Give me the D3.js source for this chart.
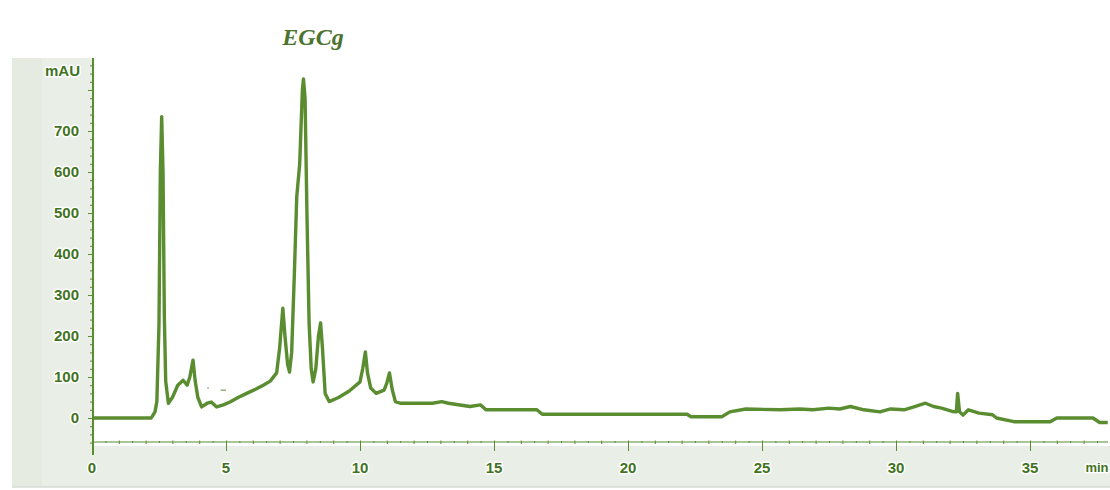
<!DOCTYPE html>
<html>
<head>
<meta charset="utf-8">
<script src="https://cdn.jsdelivr.net/npm/d3@7"></script>
<style>
  html, body { margin: 0; padding: 0; background: #ffffff; }
  svg { display: block; }
  .lbl { font-family: "Liberation Sans", Arial, sans-serif; font-weight: bold; fill: #3f7321;
         stroke: #ffffff; stroke-width: 3px; paint-order: stroke; stroke-linejoin: round; }
</style>
</head>
<body>
<svg id="chart" width="1110" height="490"></svg>
<script>
// Retention time (min) of each trace point
const timeMin = [
  0, 2.2, 2.23, 2.35, 2.42, 2.5, 2.55, 2.6, 2.65, 2.7, 2.75, 2.85, 3.0, 3.2, 3.4, 3.55, 3.65, 3.77,
  3.85, 3.95, 4.09, 4.3, 4.45, 4.65, 4.9, 5.15, 5.45, 5.77, 6.1, 6.39, 6.65, 6.89, 7.0, 7.12, 7.2,
  7.3, 7.37, 7.45, 7.55, 7.64, 7.75, 7.85, 7.89, 7.95, 8.02, 8.1, 8.18, 8.25, 8.35, 8.45, 8.53, 8.6,
  8.7, 8.85, 9.2, 9.6, 10.0, 10.1, 10.2, 10.28, 10.4, 10.6, 10.9, 11.0, 11.1, 11.2, 11.32, 11.5,
  12.7, 13.05, 13.3, 14.1, 14.5, 14.7, 16.6, 16.8, 22.2, 22.35, 23.5, 23.8, 24.4, 25.7, 26.4, 26.9,
  27.5, 27.9, 28.3, 28.8, 29.4, 29.8, 30.3, 30.7, 31.1, 31.4, 31.7, 32.1, 32.25, 32.3, 32.37, 32.5,
  32.7, 33.1, 33.6, 33.75, 34.4, 35.75, 36.0, 37.35, 37.6, 37.9
];
// Detector response (mAU) at each retention time
const absorbance = [
  0, 0, 2, 15, 40, 230, 600, 735, 600, 245, 90, 36, 50, 80, 92, 80, 100, 141,
  90, 50, 27, 36, 39, 27, 32, 39, 50, 60, 70, 80, 90, 110, 170, 268, 200,
  130, 112, 160, 350, 540, 620, 800, 827, 780, 500, 232, 120, 88, 120, 200, 232, 170,
  60, 40, 50, 66, 88, 120, 161, 110, 73, 60, 68, 85, 110, 70, 40, 36,
  36, 40, 36, 28, 32, 20, 20, 9, 9, 3, 3, 15, 22, 20, 22, 20,
  24, 22, 28, 20, 15, 22, 20, 28, 36, 28, 24, 16, 15, 60, 15, 7,
  20, 12, 8, 0, -9, -9, 0, 0, -11, -11
];
// Stray marks near the baseline (time, mAU)
const strayDash = [[4.8, 68], [5.0, 68]];
const strayDot = [[4.33, 73]];

const yTickValues = [0, 100, 200, 300, 400, 500, 600, 700];
const xTickValues = [0, 5, 10, 15, 20, 25, 30, 35];
const yUnit = "mAU";
const xUnit = "min";
const peakName = "EGCg";

const svg = d3.select("#chart");
const green = "#5a8c30";
const panel = "#e9eee6";

const x = d3.scaleLinear().domain([0, 35]).range([92, 1030]);
const y = d3.scaleLinear().domain([0, 700]).range([418, 131]);

// shaded frame behind the axes
svg.append("rect").attr("x", 12).attr("y", 58).attr("width", 80).attr("height", 429).attr("fill", panel);
svg.append("rect").attr("x", 12).attr("y", 446).attr("width", 1098).attr("height", 41).attr("fill", panel);
svg.append("rect").attr("x", 12).attr("y", 58).attr("width", 30).attr("height", 429).attr("fill", "#e5ebe1");
svg.append("line").attr("x1", 12).attr("x2", 1110).attr("y1", 487).attr("y2", 487)
  .attr("stroke", "#d6dbd3").attr("stroke-width", 1.5);

// y axis: minor ticks every 20 mAU, major every 100
const yAxis = d3.axisLeft(y)
  .tickValues(d3.range(-60, 861, 20))
  .tickSize(3)
  .tickFormat("");
const yg = svg.append("g").attr("transform", "translate(93,0)").call(yAxis);
yg.select(".domain").remove();
yg.selectAll(".tick line").attr("stroke", green).attr("stroke-width", 1)
  .attr("x2", d => (d % 100 === 0 ? -5 : -3));
svg.append("line").attr("x1", 93).attr("x2", 93).attr("y1", 58).attr("y2", 455)
  .attr("stroke", green).attr("stroke-width", 2);

svg.selectAll(".ylab").data(yTickValues).enter().append("text")
  .attr("class", "lbl ylab")
  .attr("x", 79).attr("y", d => y(d)).attr("dy", "0.36em")
  .attr("text-anchor", "end").attr("font-size", 15)
  .text(d => d);
svg.append("text").attr("class", "lbl")
  .attr("x", 80).attr("y", 71).attr("dy", "0.36em")
  .attr("text-anchor", "end").attr("font-size", 15)
  .text(yUnit);

// x axis: minor ticks every 0.5 min, major every 5 min
const xAxis = d3.axisBottom(x)
  .tickValues(d3.range(0, 37.9, 0.5))
  .tickSize(2)
  .tickFormat("");
const xg = svg.append("g").attr("transform", "translate(0,442)").call(xAxis);
xg.select(".domain").remove();
xg.selectAll(".tick line").attr("stroke", green).attr("stroke-width", 1)
  .attr("y1", d => (d % 1 === 0 ? -1.5 : -1))
  .attr("y2", d => (d % 5 === 0 ? 9 : d % 1 === 0 ? 2 : 1));
svg.append("line").attr("x1", 93).attr("x2", 1108).attr("y1", 442).attr("y2", 442)
  .attr("stroke", green).attr("stroke-width", 1.2);

svg.selectAll(".xlab").data(xTickValues).enter().append("text")
  .attr("class", "lbl xlab")
  .attr("x", d => x(d)).attr("y", 468).attr("dy", "0.36em")
  .attr("text-anchor", "middle").attr("font-size", 15)
  .text(d => d);
svg.append("text").attr("class", "lbl")
  .attr("x", 1097).attr("y", 467).attr("dy", "0.36em")
  .attr("text-anchor", "middle").attr("font-size", 13)
  .text(xUnit);

// chromatogram trace
const pts = timeMin.map((t, i) => [t, absorbance[i]]);
const line = d3.line().x(d => x(d[0])).y(d => y(d[1]));
svg.append("path").datum(pts)
  .attr("d", line)
  .attr("fill", "none")
  .attr("stroke", green)
  .attr("stroke-width", 3.4)
  .attr("stroke-linejoin", "round");

svg.append("path").datum(strayDash).attr("d", line)
  .attr("stroke", green).attr("stroke-width", 1).attr("fill", "none");
svg.selectAll(".dot").data(strayDot).enter().append("circle")
  .attr("cx", d => x(d[0])).attr("cy", d => y(d[1])).attr("r", 0.8).attr("fill", green);

// peak label
svg.append("text")
  .attr("x", 313).attr("y", 45)
  .attr("text-anchor", "middle")
  .attr("font-family", "'Liberation Serif', 'DejaVu Serif', serif")
  .attr("font-style", "italic")
  .attr("font-weight", "bold")
  .attr("font-size", 24)
  .attr("fill", "#4d7330")
  .text(peakName);
</script>
</body>
</html>
